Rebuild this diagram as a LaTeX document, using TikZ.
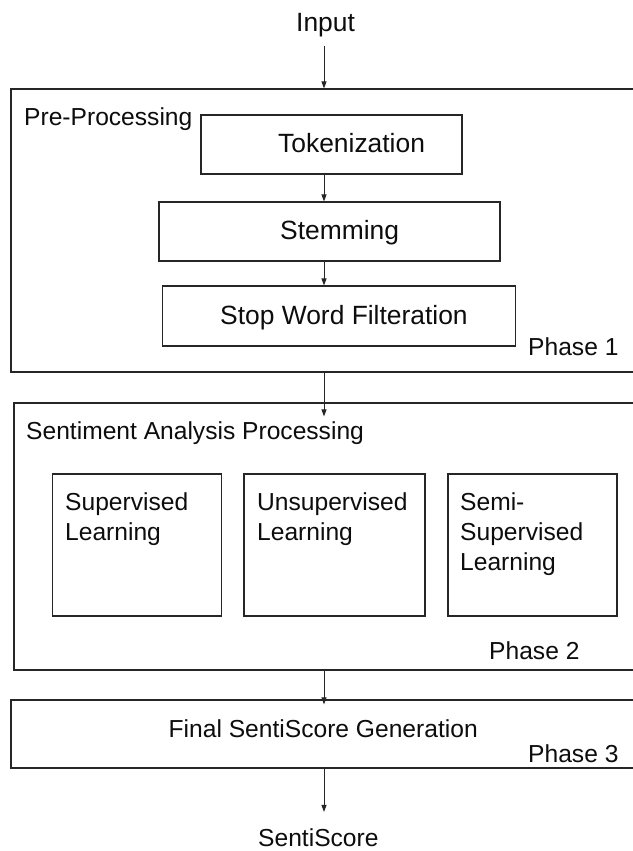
\documentclass[tikz,border=0pt]{standalone}
\usepackage{fontspec}
\setmainfont{Liberation Sans}
\usetikzlibrary{arrows.meta}
\begin{document}
\begin{tikzpicture}[x=1pt,y=-1pt,
  box/.style={draw=black!85, line width=1.1pt, rectangle, inner sep=0pt},
  txt/.style={inner sep=0pt, anchor=base west, align=left,
              font=\fontsize{24.6}{30}\selectfont, text=black!95},
  bigtxt/.style={txt, font=\fontsize{26.4}{30}\selectfont},
  arr/.style={draw=black!85, line width=1pt, -{Triangle[length=7pt,width=5pt]}}]
\useasboundingbox[fill=white] (0,0) rectangle (632,851);
\coordinate (spine) at (324,0);

% phase containers (open to the right edge)
\node[box, minimum width=649, minimum height=283] (p1) at (335.5,230.5) {};
\node[box, minimum width=646, minimum height=267] (p2) at (337,536.5) {};
\node[box, minimum width=649, minimum height=68]  (p3) at (335.5,734) {};

% pre-processing steps
\node[box, minimum width=261, minimum height=59] (tok)  at (331.5,144.5) {};
\node[box, minimum width=341, minimum height=59] (stem) at (329.5,231.5) {};
\node[box, minimum width=353, minimum height=60] (stop) at (339,316) {};

% learning approaches
\node[box, minimum width=169, minimum height=142] (sup)   at (137,545) {};
\node[box, minimum width=181, minimum height=142] (unsup) at (334.5,545) {};
\node[box, minimum width=169, minimum height=142] (semi)  at (532.5,545) {};

% labels (multi-line labels are anchored at their last baseline)
\node[bigtxt] (inp)   at (296,32)  {Input};
\node[txt]    (pre)   at (24,125)  {Pre-Processing};
\node[bigtxt] (toktx) at (278,152) {Tokenization};
\node[bigtxt] (stmtx) at (280,239) {Stemming};
\node[bigtxt] (stptx) at (220,324) {Stop Word Filteration};
\node[txt]    (ph1)   at (528,355) {Phase 1};
\node[txt]    (sap)   at (26,439)  {Sentiment Analysis Processing};
\node[txt]    (suptx) at (65,540)  {Supervised\\Learning};
\node[txt]    (unstx) at (257,540) {Unsupervised\\Learning};
\node[txt]    (semtx) at (460,570) {Semi-\\Supervised\\Learning};
\node[txt]    (ph2)   at (489,659) {Phase 2};
\node[txt]    (fin)   at (168.5,737) {Final SentiScore Generation};
\node[txt]    (ph3)   at (528,762) {Phase 3};
\node[txt]    (out)   at (258,846) {SentiScore};

% flow
\draw[arr] ([yshift=-8pt]inp.south -| spine) -- (p1.north -| spine);
\draw[arr] (tok.south -| spine) -- (stem.north -| spine);
\draw[arr] (stem.south -| spine) -- (stop.north -| spine);
\draw[arr] (p1.south -| spine) -- ([yshift=-14pt]p2.north -| spine);
\draw[arr] (p2.south -| spine) -- ([yshift=-5pt]p3.north -| spine);
\draw[arr] (p3.south -| spine) -- ([yshift=16pt]out.north -| spine);
\end{tikzpicture}
\end{document}
